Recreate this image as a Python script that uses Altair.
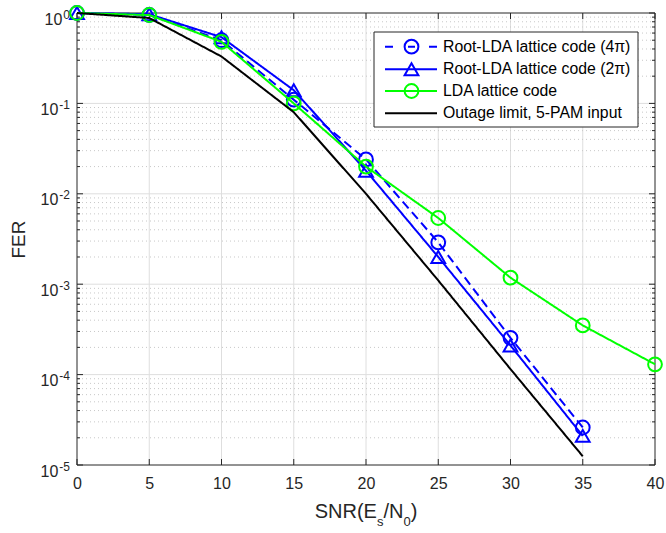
import altair as alt
import pandas as pd

# ---------------- data ----------------
snr = [0, 5, 10, 15, 20, 25, 30, 35]
snr_lda = [0, 5, 10, 15, 20, 25, 30, 35, 40]
fer_root4 = [1.0, 0.95, 0.50, 0.11, 0.024, 2.9e-3, 2.55e-4, 2.6e-5]
fer_root2 = [1.0, 0.97, 0.54, 0.14, 0.018, 2.0e-3, 2.1e-4, 2.1e-5]
fer_lda = [1.0, 0.95, 0.48, 0.10, 0.020, 5.4e-3, 1.18e-3, 3.5e-4, 1.3e-4]
fer_outage = [1.0, 0.88, 0.33, 0.08, 0.0100, 1.1e-3, 1.15e-4, 1.25e-5]

series_names = ["Root-LDA lattice code (4π)", "Root-LDA lattice code (2π)",
                "LDA lattice code", "Outage limit, 5-PAM input"]
series_colors = ["#0000FF", "#0000FF", "#00FF00", "#000000"]
series_dash = [[9, 5], [1, 0], [1, 0], [1, 0]]
legend_dash = [[8, 15, 7, 14, 8, 100], [1, 0], [1, 0], [1, 0]]
series_shape = ["circle", "triangle-up", "circle", None]

x_ticks = [0, 5, 10, 15, 20, 25, 30, 35, 40]
y_major = [1e-5, 1e-4, 1e-3, 1e-2, 1e-1, 1.0]
y_exponents = ["-5", "-4", "-3", "-2", "-1", "0"]
y_minor = [k * 10.0 ** e for e in range(-5, 0) for k in range(2, 10)]

# x title pieces: (text, font size, baseline shift)
title_parts = [("SNR(E", 20, 0), ("s", 13, 8), ("/N", 20, 0), ("0", 13, 8), (")", 20, 0)]

# ---------------- layout ----------------
W, H = 578, 452
FONT = "Liberation Sans"
INK = "#262626"

series_x = [snr, snr, snr_lda, snr]
series_y = [fer_root4, fer_root2, fer_lda, fer_outage]
rows = []
for name, xs_, ys_ in zip(series_names, series_x, series_y):
    for a, b in zip(xs_, ys_):
        rows.append({"series": name, "snr": a, "fer": b})
df = pd.DataFrame(rows)

xs = alt.Scale(domain=[0, 40], nice=False, zero=False)
ys = alt.Scale(type="log", domain=[1e-5, 1], nice=False)

x_axis = alt.Axis(values=x_ticks, grid=False, ticks=False, domain=False,
                  labelFont=FONT, labelFontSize=16, labelColor=INK, labelPadding=10,
                  labelFlush=False, title=None)
y_axis = alt.Axis(values=y_major, labels=False, grid=False, ticks=False,
                  domain=False, title="FER", titleFont=FONT, titleFontSize=19,
                  titleFontWeight="normal", titleColor=INK,
                  titleX=-59, titleY=H / 2, titleBaseline="middle", titleAngle=-90)


def X(field):
    return alt.X(field, scale=xs, axis=x_axis)


def Y(field):
    return alt.Y(field, scale=ys, axis=y_axis)


dummy = pd.DataFrame({"a": [0]})
layers = []

# grid
layers.append(alt.Chart(pd.DataFrame({"v": x_ticks[1:-1]})).mark_rule(
    color="#dedede", strokeWidth=1).encode(x=X("v:Q")))
layers.append(alt.Chart(pd.DataFrame({"v": y_minor})).mark_rule(
    color="#c8c8c8", strokeWidth=1, strokeDash=[1, 3]).encode(y=Y("v:Q")))
layers.append(alt.Chart(pd.DataFrame({"v": y_major[1:-1]})).mark_rule(
    color="#dedede", strokeWidth=1).encode(y=Y("v:Q")))

# ticks (inward)
xt = pd.DataFrame({"v": x_ticks})
layers.append(alt.Chart(xt).mark_rule(color=INK).encode(
    x=X("v:Q"), y=alt.value(H), y2=alt.value(H - 6)))
layers.append(alt.Chart(xt).mark_rule(color=INK).encode(
    x=X("v:Q"), y=alt.value(0), y2=alt.value(6)))
ymj = pd.DataFrame({"v": y_major})
ymn = pd.DataFrame({"v": y_minor})
for d, ln in ((ymj, 6), (ymn, 3)):
    layers.append(alt.Chart(d).mark_rule(color=INK).encode(
        y=Y("v:Q"), x=alt.value(0), x2=alt.value(ln)))
    layers.append(alt.Chart(d).mark_rule(color=INK).encode(
        y=Y("v:Q"), x=alt.value(W - ln), x2=alt.value(W)))

# y tick labels "10" with superscript exponent
adv = {"S": .667, "N": .722, "R": .722, "(": .333, "E": .667, "/": .278, ")": .333,
       "s": .5, "0": .556, "1": .556, "2": .556, "3": .556, "4": .556, "5": .556, "-": .333}
for v, e in zip(y_major, y_exponents):
    d = pd.DataFrame({"v": [v], "e": [e], "b": ["10"]})
    ew = sum(adv[c] for c in e) * 12
    layers.append(alt.Chart(d).mark_text(
        align="right", baseline="alphabetic", font=FONT, fontSize=12, color=INK, dy=5.5).encode(
        y=Y("v:Q"), x=alt.value(-7), text="e:N"))
    layers.append(alt.Chart(d).mark_text(
        align="right", baseline="alphabetic", font=FONT, fontSize=16, color=INK, dy=11.5).encode(
        y=Y("v:Q"), x=alt.value(-8 - ew), text="b:N"))

# box
layers.append(alt.Chart(dummy).mark_rect(fillOpacity=0, stroke=INK, strokeWidth=1).encode(
    x=alt.value(0), x2=alt.value(W), y=alt.value(0), y2=alt.value(H)))

for i, name in enumerate(series_names):
    sub = alt.Chart(df).transform_filter(alt.datum.series == name)
    layers.append(sub.mark_line(color=series_colors[i], strokeWidth=2,
                                strokeDash=series_dash[i]).encode(x=X("snr:Q"), y=Y("fer:Q")))
    if series_shape[i]:
        layers.append(sub.mark_point(shape=series_shape[i], filled=False, size=190,
                                     strokeWidth=2, color=series_colors[i], opacity=1).encode(
            x=X("snr:Q"), y=Y("fer:Q")))

# legend (manual, MATLAB style)
lx0, lx1, ly0, ly1 = 297, 561, 19, 114
layers.append(alt.Chart(dummy).mark_rect(fill="white", stroke=INK, strokeWidth=1).encode(
    x=alt.value(lx0), x2=alt.value(lx1), y=alt.value(ly0), y2=alt.value(ly1)))
entry_y = [33.7, 56.3, 78.0, 100.3]
for i, name in enumerate(series_names):
    ey = entry_y[i]
    layers.append(alt.Chart(dummy).mark_rule(color=series_colors[i], strokeWidth=2,
                                             strokeDash=legend_dash[i]).encode(
        x=alt.value(308), x2=alt.value(360), y=alt.value(ey)))
    if series_shape[i]:
        layers.append(alt.Chart(dummy).mark_point(shape=series_shape[i], filled=False, size=190,
                                                  strokeWidth=2, color=series_colors[i], opacity=1).encode(
            x=alt.value(334.5), y=alt.value(ey)))
    layers.append(alt.Chart(pd.DataFrame({"t": [name]})).mark_text(
        align="left", baseline="middle", font=FONT, fontSize=15.8, color="#000000").encode(
        x=alt.value(366), y=alt.value(ey), text="t:N"))

# x-axis title with real subscripts (Arial advance widths)
total = sum(sum(adv[c] for c in t) * fs for t, fs, _ in title_parts)
cx = W / 2 - total / 2
base_y = H + 53
for t, fs, shift in title_parts:
    layers.append(alt.Chart(pd.DataFrame({"t": [t]})).mark_text(
        align="left", baseline="alphabetic", font=FONT, fontSize=fs, color=INK).encode(
        x=alt.value(cx), y=alt.value(base_y + shift), text="t:N"))
    cx += sum(adv[c] for c in t) * fs

chart = alt.layer(*layers).properties(
    width=W, height=H,
    padding={"left": 77, "top": 13, "right": 11, "bottom": 68},
    autosize=alt.AutoSizeParams(type="none"),
    background="white",
).configure_view(stroke=None)

chart.save("out.html", embed_options={"renderer": "svg", "actions": False})
